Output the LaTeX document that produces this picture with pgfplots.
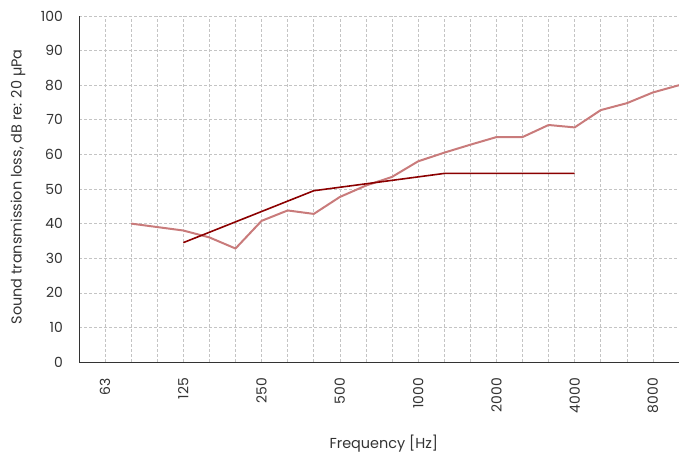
\documentclass[border=0pt]{standalone}
\usepackage{pgfplots}
\pgfplotsset{compat=1.18}
\usepackage{fontspec}
\setmainfont{Poppins}
\definecolor{lightline}{HTML}{C97B7B}
\definecolor{darkline}{HTML}{8B0000}
\definecolor{txt}{HTML}{333333}
\definecolor{gridc}{HTML}{C4C4C4}
\begin{document}
\begin{tikzpicture}
\useasboundingbox (0,0) rectangle (679bp,457bp);
\begin{axis}[
  at={(79bp,95bp)}, anchor=south west,
  scale only axis, width=600bp, height=346bp,
  xmin=-1, xmax=22, ymin=0, ymax=100,
  axis lines*=left,
  axis line style={txt, line width=1pt},
  xtick={0,...,22},
  xticklabels={63,,,125,,,250,,,500,,,1000,,,2000,,,4000,,,8000,},
  ytick={0,10,...,100},
  major tick length=0pt,
  grid=major,
  grid style={gridc, dash pattern=on 2.5bp off 2.5bp, line width=0.6pt},
  /pgf/number format/assume math mode=true,
  tick label style={font=\fontsize{14}{16}\selectfont, text=txt, inner sep=0pt},
  xticklabel style={rotate=90, anchor=east},
  xticklabel shift=16bp,
  yticklabel shift=16bp,
  xlabel={Frequency [Hz]},
  ylabel={Sound transmission loss, dB re: 20 µPa},
  label style={font=\fontsize{14.5}{16}\selectfont, text=txt},
  xlabel style={at={(axis description cs:0.508,-0.237)}, anchor=center},
  ylabel style={at={(axis description cs:-0.1017,0.506)}, anchor=center, rotate=0},
]
\addplot[lightline, line width=2pt, line join=round] coordinates {
 (1,40) (2,39) (3,38) (4,36) (5,32.8) (6,40.8) (7,43.8) (8,42.8) (9,47.7)
 (10,51) (11,53.5) (12,58) (13,60.5) (14,62.8) (15,65) (16,65) (17,68.5)
 (18,67.8) (19,72.8) (20,74.8) (21,77.9) (22,80)
};
\addplot[darkline, line width=1.6pt, line join=round] coordinates {
 (3,34.5) (4,37.5) (5,40.5) (6,43.5) (7,46.5) (8,49.5) (9,50.5) (10,51.5)
 (11,52.5) (12,53.5) (13,54.5) (14,54.5) (15,54.5) (16,54.5) (17,54.5) (18,54.5)
};
\end{axis}
\end{tikzpicture}
\end{document}
